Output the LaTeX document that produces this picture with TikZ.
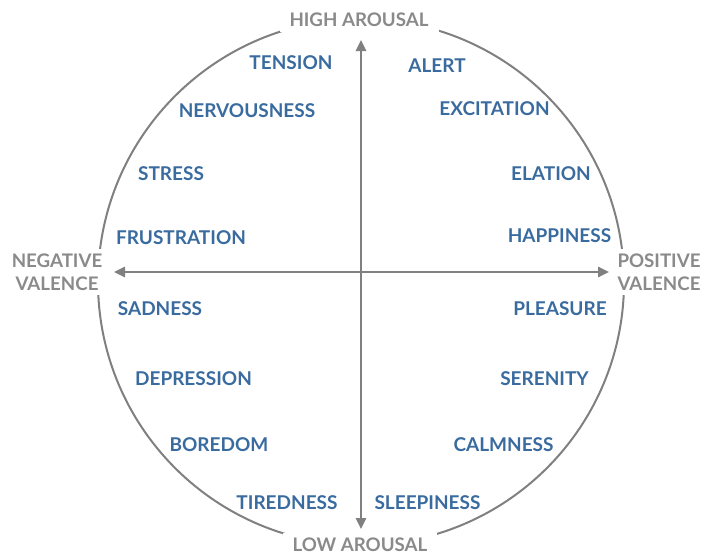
\documentclass[tikz,border=0pt]{standalone}
\usepackage{fontspec}
\setmainfont{Lato}
\usetikzlibrary{arrows.meta}
\definecolor{axisgray}{HTML}{808080}
\definecolor{labelgray}{HTML}{8A8A8A}
\definecolor{moodblue}{HTML}{3A6B9F}
\tikzset{axis/.style = {draw=axisgray, line width=2.5pt, -{Triangle[length=11pt,width=10pt]}},
         pole/.style = {fill=white, text=labelgray, font=\fontsize{18.7}{22}\selectfont\bfseries, align=center, inner xsep=10pt, inner ysep=5pt},
         mood/.style = {text=moodblue, font=\fontsize{19}{22}\selectfont\bfseries, inner sep=1pt, yshift=-1pt}}
\begin{document}
\begin{tikzpicture}[x=1pt, y=-1pt]
\useasboundingbox (0,0) rectangle (703,557);
\coordinate (o) at (361,282);
\draw [axisgray, line width=2pt] (o) circle [radius=263];
\node [pole] (high) at (359,20) {HIGH AROUSAL};
\node [pole] (low) at (360,545) {LOW AROUSAL};
\node [pole, inner xsep=4pt] (neg) at (57,272) {NEGATIVE\\[1pt]VALENCE};
\node [pole, inner xsep=4pt] (pos) at (659,272) {POSITIVE\\[1pt]VALENCE};
\coordinate (c) at (361,272);
\coordinate (top) at (361,40);
\coordinate (bottom) at (361,529);
\coordinate (left) at (114,272);
\coordinate (right) at (609,272);
\draw [axis] (c) -- (top);
\draw [axis] (c) -- (bottom);
\draw [axis] (c) -- (left);
\draw [axis] (c) -- (right);
\node [mood] (tension) at (291,62) {TENSION};
\node [mood] (alert) at (437,65) {ALERT};
\node [mood] (nervousness) at (247,110) {NERVOUSNESS};
\node [mood] (excitation) at (494.5,108) {EXCITATION};
\node [mood] (stress) at (171,173) {STRESS};
\node [mood] (elation) at (551,173) {ELATION};
\node [mood] (frustration) at (181,237) {FRUSTRATION};
\node [mood] (happiness) at (559.5,235) {HAPPINESS};
\node [mood] (sadness) at (160,308) {SADNESS};
\node [mood] (pleasure) at (560,308) {PLEASURE};
\node [mood] (depression) at (193.5,378) {DEPRESSION};
\node [mood] (serenity) at (544.5,378) {SERENITY};
\node [mood] (boredom) at (219,444) {BOREDOM};
\node [mood] (calmness) at (503.5,444) {CALMNESS};
\node [mood] (tiredness) at (287,502) {TIREDNESS};
\node [mood] (sleepiness) at (427.5,502) {SLEEPINESS};
\end{tikzpicture}
\end{document}
